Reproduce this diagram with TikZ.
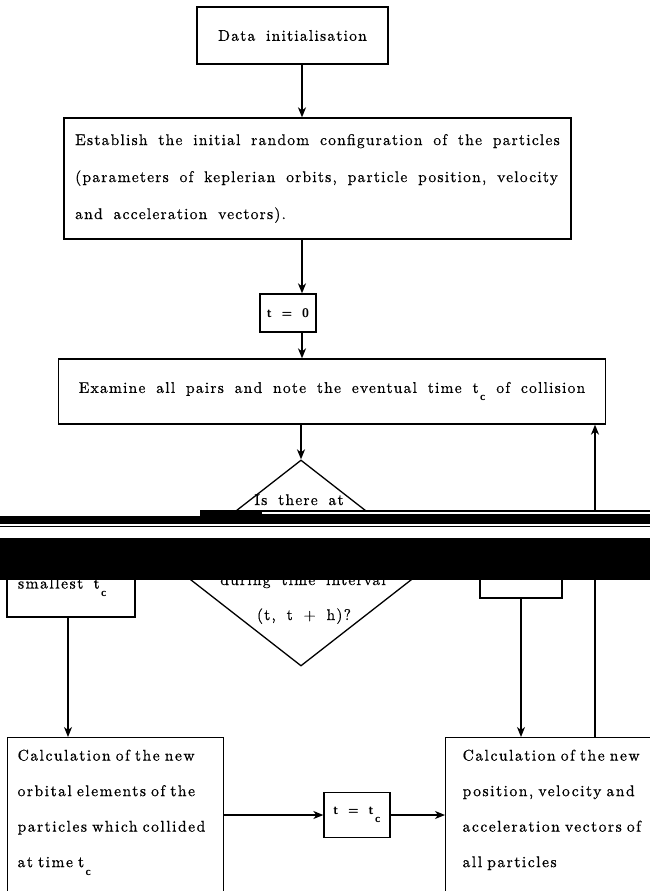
\documentclass[tikz,border=0pt]{standalone}
\usepackage{fontspec}
\usetikzlibrary{arrows.meta,shapes.geometric}

\newfontfamily\flowfont{lmroman10-regular.otf}[LetterSpace=8, WordSpace=1.7, FakeBold=0.6]
\newfontfamily\widefont{lmroman10-regular.otf}[LetterSpace=10, WordSpace=2.2, FakeBold=0.8]
\newfontfamily\flowsans{lmsans10-bold.otf}[LetterSpace=12, WordSpace=1.6]
\newcommand{\tcol}{t\kern1.5pt\raisebox{-8pt}{\flowsans\fontsize{11}{11}\selectfont c}}

\begin{document}
\begin{tikzpicture}[x=1pt,y=-1pt,
    flowbox/.style={draw, line width=1.3pt, inner sep=0pt},
    arr/.style={-{Stealth[length=10pt,width=8pt,inset=3pt]}, line width=1.3pt},
    txt/.style={font=\flowfont\fontsize{15.5}{37}\selectfont},
    widetxt/.style={font=\widefont\fontsize{15.5}{35.5}\selectfont},
    sanstxt/.style={font=\flowsans\fontsize{12.5}{14}\selectfont},
    scanbar/.style={fill=black, draw=none}]
  \useasboundingbox[fill=white] (0,0) rectangle (650,891);
  \coordinate (spine) at (302,0);
  \coordinate (lcol) at (68,0);
  \coordinate (rspine) at (595,0);

  % main column
  \node[flowbox, txt, minimum width=191pt, minimum height=57pt] (data) at (292.5,35.5) {Data initialisation};
  \node[flowbox, txt, align=left, minimum width=507pt, minimum height=121pt] (estab) at (317.5,178.5)
    {Establish the initial random configuration of the particles\\
     (parameters of keplerian orbits, particle position, velocity\\
     and acceleration vectors).};
  \node[flowbox, sanstxt, minimum width=56pt, minimum height=38pt] (tzero) at (288,313) {t = 0};
  \node[flowbox, txt, minimum width=547pt, minimum height=65pt] (exam) at (332,391.5)
    {Examine all pairs and note the eventual time \tcol{} of collision};

  % test
  \node[draw, diamond, line width=1.3pt, inner sep=0pt, minimum width=264pt, minimum height=206pt] (test) at (301,563) {};
  \node[txt, anchor=base, inner sep=0pt] (q1) at (299,505) {Is there at};
  \node[txt, anchor=base, inner sep=0pt] (q2) at (303,585) {during time interval};
  \node[txt, anchor=base, inner sep=0pt] (q3) at (304,620) {(t, t + h)?};

  % branches
  \node[flowbox, widetxt, align=left, text width=106pt, inner xsep=11pt, minimum height=64pt,
    text height=10pt, text depth=3pt] (small) at (71,585) {smallest\ \ \tcol};
  \node[flowbox, minimum width=82pt, minimum height=48pt] (rbox) at (521,574) {};

  % bottom row
  \node[flowbox, widetxt, align=left, anchor=north west, text width=196pt, inner xsep=10pt, inner ysep=12pt,
    text depth=150pt] (calcl) at (7,737)
    {Calculation of the new\\ orbital elements of the\\ particles which collided\\ at time \tcol};
  \node[flowbox, sanstxt, minimum width=66pt, minimum height=45pt] (tct) at (357,815) {t = \tcol};
  \node[flowbox, widetxt, align=left, anchor=north west, text width=200pt, inner xsep=17pt, inner ysep=12pt,
    text depth=150pt] (calcr) at (445,737)
    {Calculation of the new\\ position, velocity and\\ acceleration vectors of\\ all particles};

  % connectors
  \draw[arr] (data.south -| spine) -- (estab.north -| spine);
  \draw[arr] (estab.south -| spine) -- (tzero.north -| spine);
  \draw[arr] (tzero.south -| spine) -- (exam.north -| spine);
  \draw[arr] (exam.south -| test.north) -- (test.north);
  \draw[arr] (small.south -| lcol) -- (calcl.north -| lcol);
  \draw[arr] (rbox.south) -- (calcr.north -| rbox.south);
  \draw[arr] (calcr.north -| rspine) -- (exam.south -| rspine);
  \draw[arr] (tct.west -| calcl.east) -- (tct.west);
  \draw[arr] (tct.east) -- (tct.east -| calcr.west);

  % scanner marks
  \fill[white] (0,524) rectangle (650,538);
  \fill[scanbar] (0,516) rectangle (650,524);
  \fill[scanbar] (200,509.5) rectangle (650,516);
  \fill[white] (262,511.5) rectangle (650,514);
  \draw[line width=1pt] (0,526.5) -- (650,526.5);
  \fill[scanbar] (0,538) rectangle (650,580);
\end{tikzpicture}
\end{document}
